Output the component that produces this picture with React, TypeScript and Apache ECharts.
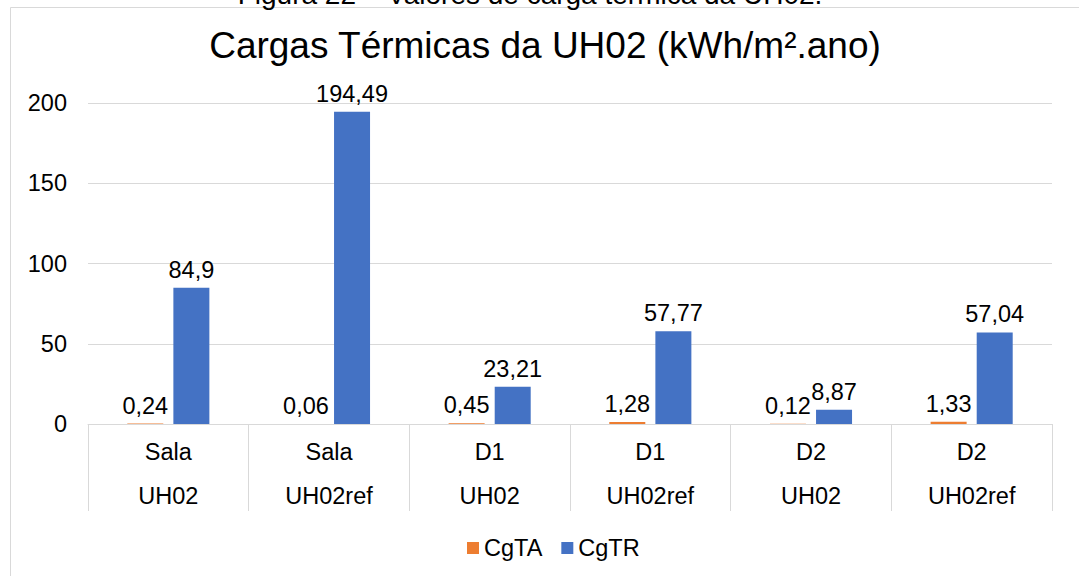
import React, { useEffect, useRef } from 'react';
import * as echarts from 'echarts';

const rooms = ['Sala', 'Sala', 'D1', 'D1', 'D2', 'D2'];
const cases = ['UH02', 'UH02ref', 'UH02', 'UH02ref', 'UH02', 'UH02ref'];
const cgTA = [0.24, 0.06, 0.45, 1.28, 0.12, 1.33];
const cgTR = [84.9, 194.49, 23.21, 57.77, 8.87, 57.04];
const seriesNames = ['CgTA', 'CgTR'];
const yMin = 0;
const yMax = 200;
const yStep = 50;
const titleText = 'Cargas Térmicas da UH02 (kWh/m².ano)';
const captionText = 'Figura 22 – Valores de carga térmica da UH02.';

const FONT = '"Liberation Sans", Arial, sans-serif';
const GRID = '#d9d9d9';
const fmt = (p: any) => String(p.value).replace('.', ',');

export default function App() {
  const ref = useRef<HTMLDivElement>(null);
  useEffect(() => {
    if (!ref.current) return;
    const chart = echarts.init(ref.current, null, { renderer: 'svg' });
    const labelStyle = { fontSize: 23.5, color: '#000', fontFamily: FONT };
    chart.setOption({
      animation: false,
      backgroundColor: '#fff',
      textStyle: { fontFamily: FONT },
      graphic: [
        {
          type: 'rect',
          shape: { x: 10.5, y: 7.5, width: 1200, height: 700 },
          style: { fill: 'none', stroke: GRID, lineWidth: 1 },
          silent: true,
        },
        {
          type: 'text',
          x: 530,
          y: -6,
          style: {
            text: captionText,
            fontSize: 28,
            fontFamily: FONT,
            fill: '#000',
            textAlign: 'center',
            textVerticalAlign: 'middle',
          },
        },
        {
          type: 'text',
          x: 545,
          y: 45,
          style: {
            text: titleText,
            fontSize: 37,
            fontFamily: FONT,
            fill: '#000',
            textAlign: 'center',
            textVerticalAlign: 'middle',
          },
        },
      ],
      legend: {
        data: seriesNames,
        left: 462,
        top: 531,
        icon: 'rect',
        itemWidth: 12,
        itemHeight: 12,
        itemGap: 19,
        textStyle: labelStyle,
      },
      grid: { left: 88, right: 27, top: 103, bottom: 152, containLabel: false },
      xAxis: [
        {
          type: 'category',
          data: rooms,
          position: 'bottom',
          axisLine: { show: true, lineStyle: { color: GRID, width: 1 } },
          axisTick: { show: true, interval: 0, length: 87, lineStyle: { color: GRID, width: 1 } },
          axisLabel: { ...labelStyle, interval: 0, margin: 16 },
        },
        {
          type: 'category',
          data: cases,
          position: 'bottom',
          offset: 44,
          axisLine: { show: false },
          axisTick: { show: false },
          axisLabel: { ...labelStyle, interval: 0, margin: 16 },
        },
      ],
      yAxis: {
        type: 'value',
        min: yMin,
        max: yMax,
        interval: yStep,
        axisLine: { show: false },
        axisTick: { show: false },
        splitLine: { lineStyle: { color: GRID, width: 1 } },
        axisLabel: { ...labelStyle, margin: 21 },
      },
      series: [
        {
          name: seriesNames[0],
          type: 'bar',
          data: cgTA,
          xAxisIndex: 0,
          barWidth: 36,
          barGap: '28%',
          itemStyle: { color: '#ED7D31' },
          label: { show: true, position: 'top', distance: 6, formatter: fmt, ...labelStyle },
        },
        {
          name: seriesNames[1],
          type: 'bar',
          data: cgTR,
          xAxisIndex: 0,
          barWidth: 36,
          barGap: '28%',
          itemStyle: { color: '#4472C4' },
          label: { show: true, position: 'top', distance: 6, formatter: fmt, ...labelStyle },
        },
      ],
    });
    return () => chart.dispose();
  }, []);
  return (
    <div
      ref={ref}
      style={{ position: 'fixed', left: 0, top: 0, width: 1079, height: 576, background: '#fff' }}
    />
  );
}
